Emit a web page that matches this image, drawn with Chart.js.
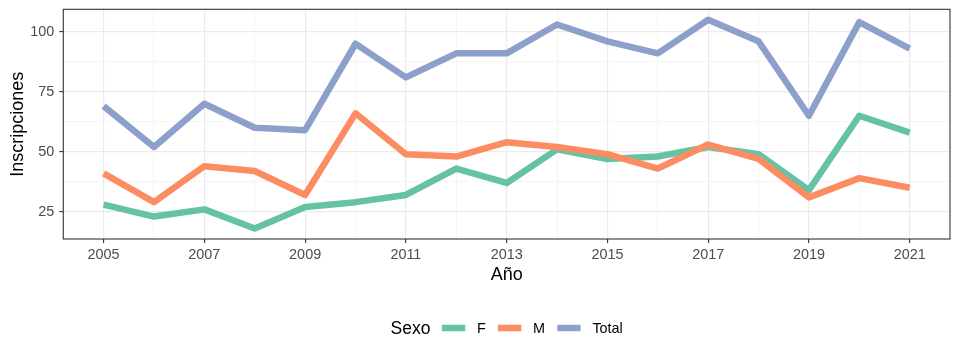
<!DOCTYPE html>
<html><head><meta charset="utf-8">
<script src="https://cdn.jsdelivr.net/npm/chart.js@4/dist/chart.umd.min.js"></script>
<style>html,body{margin:0;padding:0;background:#fff}canvas{display:block}</style>
</head><body>
<canvas id="c" width="960" height="360"></canvas>
<script>
// ---- data ----
const years = [2005,2006,2007,2008,2009,2010,2011,2012,2013,2014,2015,2016,2017,2018,2019,2020,2021];
const valuesF = [28,23,26,18,27,29,32,43,37,51,47,48,52,49,34,65,58];
const valuesM = [41,29,44,42,32,66,49,48,54,52,49,43,53,47,31,39,35];
const valuesTotal = [69,52,70,60,59,95,81,91,91,103,96,91,105,96,65,104,93];
const seriesNames = ['F','M','Total'];
const seriesColors = ['#66C2A5','#FC8D62','#8DA0CB'];
const legendTitle = 'Sexo';
const xTickLabels = [2005,2007,2009,2011,2013,2015,2017,2019,2021];
const yTickLabels = [25,50,75,100];
const xTitle = 'Año';
const yTitle = 'Inscripciones';

// ---- derived ----
const FONT = "'Liberation Sans', Arial, Helvetica, sans-serif";
const allVals = valuesF.concat(valuesM, valuesTotal);
const vMin = Math.min(...allVals), vMax = Math.max(...allVals);
const yPad = (vMax - vMin) * 0.05;
const xPad = (years[years.length-1] - years[0]) * 0.05;
const yMinor = [];
for (let i = 0; i < yTickLabels.length - 1; i++) yMinor.push((yTickLabels[i] + yTickLabels[i+1]) / 2);
const yAllTicks = yTickLabels.concat(yMinor).sort((a,b)=>a-b);
const isMajorX = v => xTickLabels.includes(v);
const isMajorY = v => yTickLabels.includes(v);

const seriesValues = [valuesF, valuesM, valuesTotal];
const datasets = seriesNames.map((name, i) => ({
  label: name,
  data: years.map((yr, j) => ({x: yr, y: seriesValues[i][j]})),
  borderColor: seriesColors[i],
  backgroundColor: seriesColors[i],
  borderWidth: 6.5,
  borderJoinStyle: 'round',
  borderCapStyle: 'butt',
  pointRadius: 0,
  tension: 0,
  fill: false,
  order: seriesNames.length - i
}));

const panelBorder = {
  id: 'panelBorder',
  afterDraw(chart) {
    const {ctx, chartArea: a} = chart;
    ctx.save();
    ctx.strokeStyle = '#333333';
    ctx.lineWidth = 1.1;
    ctx.strokeRect(a.left, a.top, a.right - a.left, a.bottom - a.top);
    ctx.restore();
  }
};

const customLegend = {
  id: 'customLegend',
  afterDraw(chart) {
    const {ctx, chartArea: a} = chart;
    ctx.save();
    const titleFont = '17.5px ' + FONT;
    const labFont = '14.4px ' + FONT;
    const keyW = 23.3, keyH = 6.5, gapTitle = 11.5, gapKey = 11.8, gapItem = 12.2;
    ctx.font = titleFont;
    const tW = ctx.measureText(legendTitle).width;
    ctx.font = labFont;
    const lW = seriesNames.map(n => ctx.measureText(n).width);
    let total = tW + gapTitle;
    lW.forEach((w, i) => { total += keyW + gapKey + w + (i < lW.length - 1 ? gapItem : 0); });
    let x = (a.left + a.right) / 2 - total / 2;
    const cy = 328.5;
    ctx.textBaseline = 'middle';
    ctx.textAlign = 'left';
    ctx.fillStyle = '#000000';
    ctx.font = titleFont;
    ctx.fillText(legendTitle, x, cy + 0.5);
    x += tW + gapTitle;
    ctx.font = labFont;
    seriesNames.forEach((n, i) => {
      ctx.fillStyle = seriesColors[i];
      ctx.fillRect(x, cy - keyH / 2 - 0.5, keyW, keyH);
      x += keyW + gapKey;
      ctx.fillStyle = '#000000';
      ctx.fillText(n, x, cy + 0.5);
      x += lW[i] + gapItem;
    });
    ctx.restore();
  }
};

new Chart(document.getElementById('c'), {
  type: 'line',
  data: { datasets },
  plugins: [panelBorder, customLegend],
  options: {
    responsive: false,
    animation: false,
    layout: { padding: { left: 0, right: 10, top: 9.3, bottom: 74.2 } },
    plugins: { legend: { display: false }, tooltip: { enabled: false } },
    scales: {
      x: {
        type: 'linear',
        min: years[0] - xPad,
        max: years[years.length-1] + xPad,
        afterBuildTicks: s => { s.ticks = years.map(v => ({value: v})); },
        afterFit: s => { s.height = 46.8; s.paddingLeft = 0; s.paddingRight = 0; },
        border: { display: false },
        grid: {
          color: ctx => isMajorX(ctx.tick && ctx.tick.value) ? '#EBEBEB' : '#F0F0F0',
          lineWidth: ctx => isMajorX(ctx.tick && ctx.tick.value) ? 1.2 : 0.7,
          tickColor: ctx => isMajorX(ctx.tick && ctx.tick.value) ? '#333333' : 'rgba(0,0,0,0)',
          tickWidth: 1.1,
          tickLength: 4,
          drawTicks: true
        },
        ticks: {
          autoSkip: false, maxRotation: 0, padding: 3,
          color: '#4D4D4D',
          font: { family: FONT, size: 14.4 },
          callback: v => isMajorX(v) ? String(v) : ''
        },
        title: { display: true, text: xTitle, color: '#000000', font: { family: FONT, size: 18 }, padding: { top: 0, bottom: 0 } }
      },
      y: {
        type: 'linear',
        min: vMin - yPad,
        max: vMax + yPad,
        afterBuildTicks: s => { s.ticks = yAllTicks.map(v => ({value: v})); },
        afterFit: s => { s.width = 63.3; s.paddingTop = 0; s.paddingBottom = 0; },
        border: { display: false },
        grid: {
          color: ctx => isMajorY(ctx.tick && ctx.tick.value) ? '#EBEBEB' : '#F0F0F0',
          lineWidth: ctx => isMajorY(ctx.tick && ctx.tick.value) ? 1.2 : 0.7,
          tickColor: ctx => isMajorY(ctx.tick && ctx.tick.value) ? '#333333' : 'rgba(0,0,0,0)',
          tickWidth: 1.1,
          tickLength: 4,
          drawTicks: true
        },
        ticks: {
          autoSkip: false, padding: 5,
          color: '#4D4D4D',
          font: { family: FONT, size: 14.4 },
          callback: v => isMajorY(v) ? String(v) : ''
        },
        title: { display: true, text: yTitle, color: '#000000', font: { family: FONT, size: 18 }, padding: { top: 7.5, bottom: 0 } }
      }
    }
  }
});
</script>
</body></html>
